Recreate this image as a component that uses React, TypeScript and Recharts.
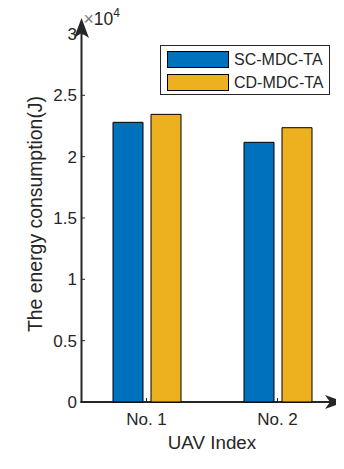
import { BarChart, Bar, XAxis, YAxis, Legend, usePlotArea } from "recharts"

const categories = ["No. 1", "No. 2"]
const scValues = [22800, 21170]
const cdValues = [23450, 22360]
const yTicks = [0, 5000, 10000, 15000, 20000, 25000, 30000]
const seriesNames = ["SC-MDC-TA", "CD-MDC-TA"]
const seriesColors = ["#0072BD", "#EDB120"]

const data = categories.map((name, i) => ({ name, sc: scValues[i], cd: cdValues[i] }))

const INK = "#262626"
const FONT = "'Liberation Sans', Arial, Helvetica, sans-serif"

const YTick = (props: any) => {
    const { x, y, payload } = props
    return (
        <g>
            <line x1={x} x2={x + 4} y1={y} y2={y} stroke={INK} strokeWidth={1} />
            <text x={x - 4} y={y} dy="0.36em" textAnchor="end" fontSize={17} fill={INK} fontFamily={FONT}>
                {payload.value / 10000}
            </text>
        </g>
    )
}

const XTick = (props: any) => {
    const { x, y, payload } = props
    return (
        <g>
            <line x1={x} x2={x} y1={y - 4} y2={y} stroke={INK} strokeWidth={1} />
            <text x={x} y={y + 23} textAnchor="middle" fontSize={17} fill={INK} fontFamily={FONT}>
                {payload.value}
            </text>
        </g>
    )
}

// matlab style axes with arrow heads + labels
function AxisDecor() {
    const area = usePlotArea()
    if (!area) return null
    const { x, y, width, height } = area
    const ax = x + 0.5
    const ay = y + height
    const tipY = y - 16
    const tipX = x + width + 1
    return (
        <g>
            <line x1={ax} y1={ay + 1} x2={ax} y2={tipY + 12} stroke={INK} strokeWidth={2} />
            <path d={`M${ax},${tipY} L${ax + 7.5},${tipY + 20} L${ax},${tipY + 15} L${ax - 7.5},${tipY + 20} Z`} fill={INK} />
            <line x1={ax - 1} y1={ay} x2={tipX - 10} y2={ay} stroke={INK} strokeWidth={2} />
            <path d={`M${tipX},${ay} L${tipX - 19},${ay - 7} L${tipX - 14},${ay} L${tipX - 19},${ay + 7} Z`} fill={INK} />
            <text x={ax + 2} y={y - 9} fontSize={17.5} fill={INK} fontFamily={FONT}>
                <tspan fill="#777">×</tspan>10<tspan fontSize={12} dy={-8}>4</tspan>
            </text>
            <text
                x={42}
                y={214}
                transform={`rotate(-90, 42, 214)`}
                textAnchor="middle"
                fontSize={19.4}
                fill={INK}
                fontFamily={FONT}
            >
                The energy consumption(J)
            </text>
            <text x={x + width / 2} y={ay + 47} textAnchor="middle" fontSize={18.8} fill={INK} fontFamily={FONT}>
                UAV Index
            </text>
        </g>
    )
}

const renderLegend = () => (
    <div
        style={{
            boxSizing: "border-box",
            width: 170,
            height: 50,
            border: `1px solid ${INK}`,
            background: "#fff",
            padding: "5px 0 0 6px",
            fontFamily: FONT,
            fontSize: 16,
            color: INK,
        }}
    >
        {seriesNames.map((n, i) => (
            <div key={n} style={{ display: "flex", alignItems: "center", height: 17, marginBottom: 6 }}>
                <div
                    style={{
                        boxSizing: "border-box",
                        width: 62,
                        height: 17,
                        background: seriesColors[i],
                        border: "1px solid #000",
                        marginRight: 5,
                    }}
                />
                <span style={{ lineHeight: "17px" }}>{n}</span>
            </div>
        ))}
    </div>
)

export default function App() {
    return (
        <div style={{ width: 344, height: 469, margin: -8, background: "#fff" }}>
            <BarChart
                width={344}
                height={469}
                data={data}
                margin={{ top: 34, right: 1, left: 0, bottom: 0 }}
                barCategoryGap={32}
                barGap={8}
            >
                <XAxis dataKey="name" height={67} axisLine={false} tickLine={false} tickSize={0} tickMargin={0} tick={<XTick />} interval={0} />
                <YAxis
                    width={81}
                    domain={[0, 30000]}
                    ticks={yTicks}
                    axisLine={false}
                    tickLine={false}
                    tickSize={0}
                    tickMargin={0}
                    tick={<YTick />}
                    interval={0}
                />
                <Legend
                    layout="horizontal"
                    verticalAlign="middle"
                    align="center"
                    content={renderLegend}
                    wrapperStyle={{ top: 45, left: 160, width: 170, height: 50 }}
                />
                <Bar dataKey="sc" name={seriesNames[0]} fill={seriesColors[0]} stroke="#000" strokeWidth={1} isAnimationActive={false} />
                <Bar dataKey="cd" name={seriesNames[1]} fill={seriesColors[1]} stroke="#000" strokeWidth={1} isAnimationActive={false} />
                <AxisDecor />
            </BarChart>
        </div>
    )
}
